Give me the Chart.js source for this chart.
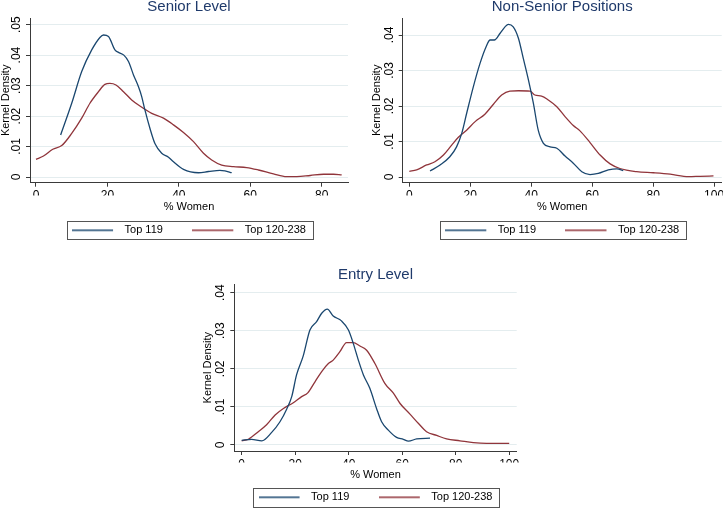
<!DOCTYPE html>
<html>
<head>
<meta charset="utf-8">
<script src="https://cdn.jsdelivr.net/npm/chart.js@4/dist/chart.umd.min.js"></script>
<style>
  html, body { margin: 0; padding: 0; background: #fff; overflow: hidden; width: 723px; height: 508px; }
  canvas { position: absolute; display: block; }
</style>
</head>
<body>
<canvas id="c1" width="361" height="254" style="left:0px;top:-4px"></canvas>
<canvas id="c2" width="362" height="254" style="left:361px;top:-4px"></canvas>
<canvas id="c3" width="361" height="250" style="left:180px;top:264px"></canvas>
<script>
// ---------------- DATA ----------------
const seriesNames = ["Top 119", "Top 120-238"];
const panelTitles = ["Senior Level", "Non-Senior Positions", "Entry Level"];
const xAxisTitle = "% Women";
const yAxisTitle = "Kernel Density";

const seniorTop119X = [6.9,10,12.8,15.6,17.9,18.9,20.3,22.1,23.1,24.6,25.9,27.3,28.7,29.6,30.5,31.9,33.3,35.2,37.1,38.5,41.3,45.5,48.3,51.5,52.9,54.8];
const seniorTop119Y = [.0138,.0242,.0346,.0417,.0458,.0466,.0461,.0417,.0409,.0400,.0379,.0335,.0296,.0264,.022,.016,.011,.0078,.0065,.005,.0025,.0014,.0018,.0022,.002,.0014];
const seniorTop120X = [0,2.1,4.7,7.2,10,12.8,15.1,17.5,19.3,20.7,22.4,24.5,26.8,29.1,32.4,35.7,38.5,41.3,44.1,46.9,49.2,52,55.3,59,62.3,66.5,70.2,73,76.8,80.5,83.3,85.6];
const seniorTop120Y = [.0058,.0069,.0091,.0103,.0143,.0193,.0242,.028,.0304,.0307,.0302,.028,.0253,.0233,.0209,.0193,.0171,.0146,.0116,.0078,.0056,.0039,.0034,.0031,.0023,.001,.0001,.0001,.0005,.0009,.0009,.0007];

const nonSeniorTop119X = [6.8,10.1,13.3,15.5,17.2,18.8,21,23.2,25.2,26.5,27.9,29.8,31.4,32.5,34.1,35.8,37.4,39.1,40.7,42.3,44,46.2,48.4,51.1,53.8,56.6,59.3,62,65.3,68.1,70.2];
const nonSeniorTop119Y = [.0017,.0034,.0057,.0085,.0123,.0179,.0254,.032,.0367,.0386,.0386,.0405,.0423,.043,.0423,.0391,.0334,.0273,.0208,.0132,.0095,.0085,.0081,.0059,.0039,.0015,.0007,.001,.002,.0023,.0018];
const nonSeniorTop120X = [0,2.4,5.7,8.4,11.2,13.9,16.1,18.8,21.6,24.8,27.6,30.3,33,35.8,39.6,41.2,43.4,45.6,48.4,51.1,53.8,56,59.3,62.6,65.9,69.1,74.6,80.1,85.6,91.6,95.4,99.8];
const nonSeniorTop120Y = [.0016,.002,.0034,.0043,.0062,.009,.0112,.0132,.0156,.0177,.0205,.0231,.0242,.0243,.0242,.0231,.0228,.0217,.0198,.017,.0145,.013,.0097,.0062,.0037,.0024,.0015,.0012,.0008,.0001,.0002,.0003];

const entryTop119X = [0,3.7,7.5,11.2,14.3,16.8,18.7,20.5,23,25.5,28,29.9,32,34.2,37.3,39.9,41.7,43.6,45.5,47.9,50.4,52.3,54.8,57.9,60.4,62.3,65.4,70.4];
const entryTop119Y = [.0012,.0015,.0011,.0033,.0061,.0094,.0127,.0184,.0234,.0302,.0324,.0346,.0357,.0339,.0326,.0302,.0267,.0223,.0184,.0149,.0096,.0061,.0039,.002,.0015,.001,.0016,.0018];
const entryTop120X = [0,2.5,6.2,9.3,12.5,15.6,19.3,22.4,24.7,27.4,29.9,32.4,34.2,36.7,39.2,41.7,44.2,46.7,49.8,53.5,56.7,59.2,62.9,66,69.1,72.9,76.6,81.6,86.6,91.5,96.5,100];
const entryTop120Y = [.0011,.0015,.0035,.0053,.0079,.0096,.0111,.0127,.0137,.0166,.0193,.0214,.0223,.0245,.0269,.0269,.026,.0249,.0214,.0162,.0136,.0109,.0081,.0057,.0035,.0025,.0016,.0011,.0006,.0004,.0004,.0004];

// ---------------- STYLE ----------------
const BLUE = '#1a476f', RED = '#90353b';
const AXIS = '#3a3a3a', GRID = '#e4edef', TITLE = '#1f3a6b';
Chart.defaults.font.family = "'Liberation Sans', Arial, sans-serif";
Chart.defaults.color = '#000';

function legendLine(color) {
  const c = document.createElement('canvas');
  c.width = 47; c.height = 4;
  const g = c.getContext('2d');
  g.strokeStyle = color; g.lineWidth = 1.3;
  g.beginPath(); g.moveTo(0, 2); g.lineTo(41, 2); g.stroke();
  return c;
}

function pts(xs, ys) { return xs.map((x, i) => ({x: x, y: ys[i]})); }
function fmtY(v) {
  if (Math.abs(v) < 1e-9) return '0';
  return String(+v.toFixed(3)).replace(/^0/, '');
}

// keep the legend on a single row, then draw Stata-like frame around it
const legendBox = {
  id: 'legendBox',
  beforeLayout(chart) {
    const lg = chart.legend;
    if (lg && !lg._oneRow) {
      const origFit = lg.fit;
      lg.fit = function () {
        const mw = this.maxWidth;
        this.maxWidth = 3000;
        origFit.call(this);
        this.maxWidth = mw;
        this.width = Math.min(this.width, mw);
      };
      const origDraw = lg.draw;
      lg.draw = function () {
        const l = this.left, r = this.right;
        this.left = l - 150; this.right = r + 150;
        origDraw.call(this);
        this.left = l; this.right = r;
      };
      lg._oneRow = true;
    }
  },
  afterDraw(chart) {
    const lg = chart.legend;
    if (!lg || !lg.legendHitBoxes || !lg.legendHitBoxes.length) return;
    const hb = lg.legendHitBoxes;
    const f = hb[0], l = hb[hb.length - 1];
    const cy = f.top + f.height / 2;
    const left = Math.round(f.left - 5.3) + 0.5;
    const right = Math.round(l.left + l.width + 6.7) + 0.5;
    const top = Math.round(cy - 9.6) + 0.5;
    const bottom = Math.round(cy + 9.2) + 0.5;
    const ctx = chart.ctx;
    ctx.save();
    ctx.strokeStyle = '#555';
    ctx.lineWidth = 1;
    ctx.strokeRect(left, top, right - left, bottom - top);
    ctx.restore();
  }
};

function makePanel(id, cfg) {
  new Chart(document.getElementById(id), {
    type: 'line',
    data: {
      datasets: [
        { label: seriesNames[0], data: pts(cfg.x1, cfg.y1), borderColor: BLUE, borderWidth: 1.3,
          pointRadius: 0, pointHoverRadius: 0, pointStyle: legendLine(BLUE), cubicInterpolationMode: 'monotone', fill: false },
        { label: seriesNames[1], data: pts(cfg.x2, cfg.y2), borderColor: RED, borderWidth: 1.3,
          pointRadius: 0, pointHoverRadius: 0, pointStyle: legendLine(RED), cubicInterpolationMode: 'monotone', fill: false }
      ]
    },
    options: {
      responsive: false, animation: false, events: [],
      layout: { padding: { left: cfg.padL, right: cfg.padR, top: 0, bottom: cfg.padB } },
      plugins: {
        tooltip: { enabled: false },
        title: { display: true, text: cfg.title, fullSize: false, color: TITLE,
                 font: { size: 15, weight: 'normal' }, padding: { top: cfg.titlePadT, bottom: cfg.titlePadB } },
        legend: {
          position: 'bottom', fullSize: false,
          labels: { usePointStyle: true, pointStyleWidth: 47, padding: 29.4,
                    font: { size: 11 }, color: '#000' }
        }
      },
      scales: {
        x: {
          type: 'linear', min: cfg.xMin, max: cfg.xMax,
          afterFit: s => { s.height = cfg.xH; s.paddingLeft = 0; s.paddingRight = 0; },
          border: { color: AXIS, width: 1 },
          grid: { drawOnChartArea: false, drawTicks: true, tickLength: 4, tickColor: AXIS },
          ticks: { stepSize: 20, includeBounds: false, autoSkip: false, maxRotation: 0, minRotation: 0,
                   padding: 2, font: { size: 12 }, color: '#000' },
          title: { display: true, text: xAxisTitle, font: { size: 11, lineHeight: 1 }, color: '#000',
                   padding: { top: 0, bottom: cfg.xTitlePadB } }
        },
        y: {
          type: 'linear', min: cfg.yMin, max: cfg.yMax,
          afterFit: s => { s.width = cfg.yW; },
          border: { color: AXIS, width: 1 },
          grid: { color: GRID, lineWidth: 1, drawTicks: true, tickLength: 4, tickColor: AXIS },
          ticks: { stepSize: 0.01, includeBounds: false, autoSkip: false, minRotation: 90, maxRotation: 90,
                   crossAlign: 'center', padding: 1, font: { size: 12 }, color: '#000', callback: v => fmtY(v) },
          title: { display: true, text: yAxisTitle, font: { size: 11, lineHeight: 1 }, color: '#000', padding: 0 }
        }
      }
    },
    plugins: [legendBox]
  });
}

makePanel('c1', {
  title: panelTitles[0], x1: seniorTop119X, y1: seniorTop119Y, x2: seniorTop120X, y2: seniorTop120Y,
  xMin: -1.68, xMax: 87.37, yMin: -0.00187, yMax: 0.05218,
  padL: 0, padR: 13, padB: 4.2, titlePadT: 2, titlePadB: 2, yW: 30, xH: 12.7, xTitlePadB: -16.8
});
makePanel('c2', {
  title: panelTitles[1], x1: nonSeniorTop119X, y1: nonSeniorTop119Y, x2: nonSeniorTop120X, y2: nonSeniorTop120Y,
  xMin: -2.17, xMax: 102.5, yMin: -0.0016, yMax: 0.04479,
  padL: 10.2, padR: 1.3, padB: 4.2, titlePadT: 2, titlePadB: 2, yW: 31.5, xH: 12.7, xTitlePadB: -16.8
});
makePanel('c3', {
  title: panelTitles[2], x1: entryTop119X, y1: entryTop119Y, x2: entryTop120X, y2: entryTop120Y,
  xMin: -2.77, xMax: 102.8, yMin: -0.00158, yMax: 0.04221,
  padL: 22.8, padR: 24.3, padB: 1.2, titlePadT: 1.5, titlePadB: 0.8, yW: 31.5, xH: 11.4, xTitlePadB: -17.6
});
</script>
</body>
</html>
